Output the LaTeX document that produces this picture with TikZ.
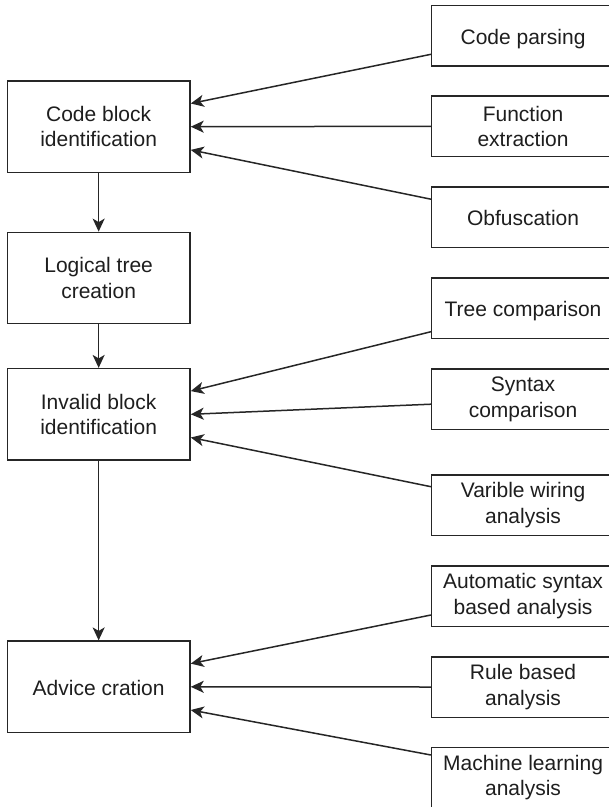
\documentclass[tikz,border=0pt]{standalone}
\usepackage{fontspec}
\setmainfont{Liberation Sans}
\usetikzlibrary{arrows.meta,calc}

\definecolor{linec}{HTML}{262626}
\definecolor{textc}{HTML}{1E1E1E}

\begin{document}
\begin{tikzpicture}[x=1pt,y=-1pt,
  stepbox/.style={draw=linec, line width=1.5pt, fill=white,
    minimum width=182.7pt, inner sep=0pt, align=center,
    font=\fontsize{21}{25.5}\selectfont, text=textc},
  mainbox/.style={stepbox, minimum height=91.3pt},
  srcbox/.style={stepbox, minimum height=60.5pt},
  oneline/.style={text height=17pt, text depth=0pt},
  flow/.style={draw=linec, line width=1.5pt,
    -{Stealth[length=13pt,width=12pt,inset=3.5pt]}}
]
\useasboundingbox (0,0) rectangle (609,807);

% main process steps (left column)
\node[mainbox] (cb) at (98.65,126.7) {Code block\\identification};
\node[mainbox] (lt) at (98.65,278.0) {Logical tree\\creation};
\node[mainbox] (ib) at (98.65,414.3) {Invalid block\\identification};
\node[mainbox, oneline] (ac) at (98.65,686.8) {Advice cration};

% contributing techniques (right column)
\node[srcbox, oneline] (cp) at (523.05,35.8) {Code parsing};
\node[srcbox] (fe) at (523.05,126.3) {Function\\extraction};
\node[srcbox, oneline] (ob) at (523.05,217.2) {Obfuscation};
\node[srcbox, oneline] (tc) at (523.05,308.3) {Tree comparison};
\node[srcbox] (sc) at (523.05,399.2) {Syntax\\comparison};
\node[srcbox] (vw) at (523.05,505.3) {Varible wiring\\analysis};
\node[srcbox] (as) at (523.05,596.0) {Automatic syntax\\based analysis};
\node[srcbox] (rb) at (523.05,687.0) {Rule based\\analysis};
\node[srcbox] (ml) at (523.05,777.7) {Machine learning\\analysis};

% flow between the steps
\draw[flow] (cb) -- (lt);
\draw[flow] (lt) -- (ib);
\draw[flow] (ib) -- (ac);

% inputs into code block identification
\draw[flow] ([yshift=-18.5pt]cp.west) -- ($(cb.north east)!0.25!(cb.south east)$);
\draw[flow] (fe.west) -- ($(cb.north east)!0.5!(cb.south east)$);
\draw[flow] ([yshift=18pt]ob.west) -- ($(cb.north east)!0.75!(cb.south east)$);

% inputs into invalid block identification
\draw[flow] ([yshift=-23.4pt]tc.west) -- ($(ib.north east)!0.25!(ib.south east)$);
\draw[flow] ([yshift=-5pt]sc.west) -- ($(ib.north east)!0.5!(ib.south east)$);
\draw[flow] ([yshift=18.6pt]vw.west) -- ($(ib.north east)!0.75!(ib.south east)$);

% inputs into advice creation
\draw[flow] ([yshift=-19pt]as.west) -- ($(ac.north east)!0.25!(ac.south east)$);
\draw[flow] (rb.west) -- ($(ac.north east)!0.5!(ac.south east)$);
\draw[flow] ([yshift=22.7pt]ml.west) -- ($(ac.north east)!0.75!(ac.south east)$);
\end{tikzpicture}
\end{document}
